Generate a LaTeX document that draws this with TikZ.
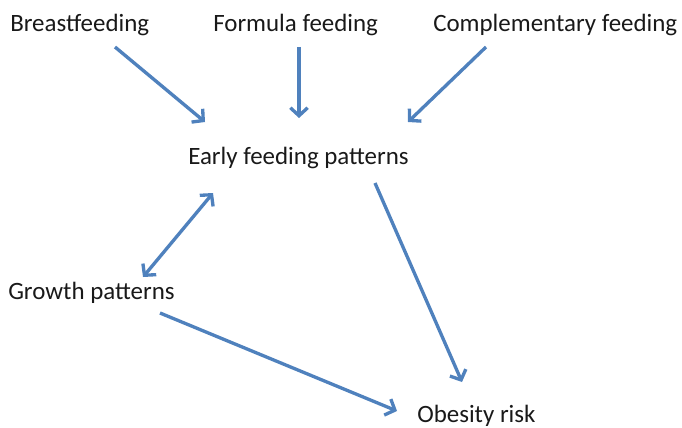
\documentclass[tikz,border=0pt]{standalone}
\usepackage{fontspec}
\setmainfont{Carlito}
\usetikzlibrary{arrows.meta}
\definecolor{arrowblue}{RGB}{79,129,189}

\begin{document}
\begin{tikzpicture}[
    x=0.75pt, y=-0.75pt,
    label/.style={anchor=base west, inner sep=0pt, font=\fontsize{18.7}{22}\selectfont, text=black!90},
    arrow/.style={-{Straight Barb[length=6pt, width=13pt]}, line width=2.5pt, arrowblue},
    dblarrow/.style={{Straight Barb[length=6pt, width=13pt]}-{Straight Barb[length=6pt, width=13pt]}, line width=2.5pt, arrowblue},
]
    \useasboundingbox (0,0) rectangle (682,428);

    % Feeding types
    \node[label] (breast) at (10,32) {Breastfeeding};
    \node[label] (formula) at (213,32) {Formula feeding};
    \node[label] (compl) at (433,32) {Complementary feeding};

    % Middle and outcome
    \node[label] (early) at (188,164) {Early feeding patterns};
    \node[label] (growth) at (8,299) {Growth patterns};
    \node[label] (obesity) at (417,422) {Obesity risk};

    % Arrows into early feeding
    \draw[arrow] ([shift={(105,15)}]breast.base west) -- ([shift={(17,-42)}]early.base west);
    \draw[arrow] ([shift={(86,15)}]formula.base west) -- ([shift={(111,-46)}]early.base west);
    \draw[arrow] ([shift={(53,15)}]compl.base west) -- ([shift={(220,-42)}]early.base west);

    % Links to outcome
    \draw[dblarrow] ([shift={(25,29)}]early.base west) -- ([shift={(135,-22)}]growth.base west);
    \draw[arrow] ([shift={(187,19)}]early.base west) -- ([shift={(45,-40)}]obesity.base west);
    \draw[arrow] ([shift={(152,14)}]growth.base west) -- ([shift={(-20,-11)}]obesity.base west);
\end{tikzpicture}
\end{document}
